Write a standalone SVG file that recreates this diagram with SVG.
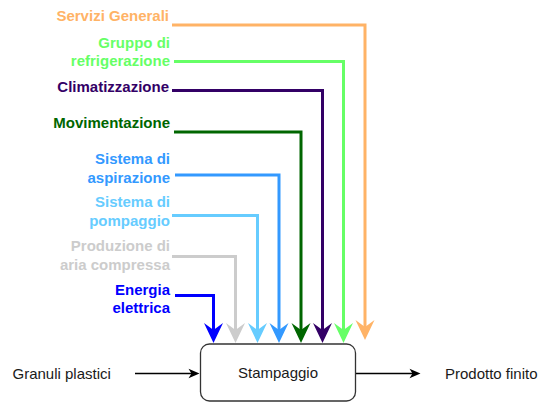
<svg xmlns="http://www.w3.org/2000/svg" xmlns:xlink="http://www.w3.org/1999/xlink" width="539" height="403" viewBox="0 0 539 403">
  <style>
    .lbl { font-family: "Liberation Sans", Arial, sans-serif; font-size: 15px; font-weight: bold; text-anchor: end; }
    .txt { font-family: "Liberation Sans", Arial, sans-serif; font-size: 15px; fill: #1a1a1a; }
    .feed { fill: none; stroke-width: 3; stroke-linejoin: miter; }
    .flow { fill: none; stroke: #000; stroke-width: 1.3; }
  </style>
  <defs>
    <!-- notched arrowhead for the thick supply lines, tip at the origin pointing down -->
    <path id="head" d="M0,0 L-9.5,-20 L0,-13 L9.5,-20 Z"/>
    <!-- small arrowhead for the material flow, tip at the origin pointing right -->
    <path id="tip" d="M0,0 L-11,-4.8 L-8,0 L-11,4.8 Z"/>
  </defs>
  <rect width="539" height="403" fill="#fff"/>

  <g id="connectors">
    <path class="feed" stroke="#FFB366" d="M172,25 H365 V327"/>
    <path class="feed" stroke="#66FF66" d="M174,61.5 H343.5 V330"/>
    <path class="feed" stroke="#330066" d="M172,90.5 H322.5 V330"/>
    <path class="feed" stroke="#006600" d="M174,132 H301 V330"/>
    <path class="feed" stroke="#3399FF" d="M175,175 H279 V330"/>
    <path class="feed" stroke="#66CCFF" d="M172,215.5 H257.5 V330"/>
    <path class="feed" stroke="#CCCCCC" d="M172,256.5 H235.5 V330"/>
    <path class="feed" stroke="#0000FF" d="M175,295.5 H213.5 V330"/>
    <use xlink:href="#head" fill="#FFB366" x="365" y="340"/>
    <use xlink:href="#head" fill="#66FF66" x="343.5" y="343"/>
    <use xlink:href="#head" fill="#330066" x="322.5" y="343"/>
    <use xlink:href="#head" fill="#006600" x="301" y="343"/>
    <use xlink:href="#head" fill="#3399FF" x="279" y="343"/>
    <use xlink:href="#head" fill="#66CCFF" x="257.5" y="343"/>
    <use xlink:href="#head" fill="#CCCCCC" x="235.5" y="343"/>
    <use xlink:href="#head" fill="#0000FF" x="213.5" y="343"/>
    <path class="flow" d="M135,373.5 H192"/>
    <use xlink:href="#tip" fill="#000" x="199.5" y="373.5"/>
    <path class="flow" d="M356,373.5 H413"/>
    <use xlink:href="#tip" fill="#000" x="420.5" y="373.5"/>
  </g>

  <g id="servizi-generali"><text class="lbl" fill="#FFB366" x="169" y="20.5">Servizi Generali</text></g>
  <g id="gruppo-refrigerazione"><text class="lbl" fill="#66FF66" x="170" y="47.5">Gruppo di</text><text class="lbl" fill="#66FF66" x="170" y="65.5">refrigerazione</text></g>
  <g id="climatizzazione"><text class="lbl" fill="#330066" x="169" y="91.5">Climatizzazione</text></g>
  <g id="movimentazione"><text class="lbl" fill="#006600" x="170" y="127.5">Movimentazione</text></g>
  <g id="sistema-aspirazione"><text class="lbl" fill="#3399FF" x="170" y="163.5">Sistema di</text><text class="lbl" fill="#3399FF" x="170" y="182.5">aspirazione</text></g>
  <g id="sistema-pompaggio"><text class="lbl" fill="#66CCFF" x="170" y="206.5">Sistema di</text><text class="lbl" fill="#66CCFF" x="170" y="225.5">pompaggio</text></g>
  <g id="aria-compressa"><text class="lbl" fill="#CCCCCC" x="170" y="251">Produzione di</text><text class="lbl" fill="#CCCCCC" x="170" y="270">aria compressa</text></g>
  <g id="energia-elettrica"><text class="lbl" fill="#0000FF" x="170" y="295">Energia</text><text class="lbl" fill="#0000FF" x="170" y="313">elettrica</text></g>

  <g id="granuli-plastici"><text class="txt" x="12.5" y="378.5">Granuli plastici</text></g>
  <g id="stampaggio">
    <rect x="200.5" y="344" width="155" height="57" rx="9" fill="#fff" stroke="#333" stroke-width="1.3"/>
    <text class="txt" x="278" y="378" text-anchor="middle">Stampaggio</text>
  </g>
  <g id="prodotto-finito"><text class="txt" x="445" y="378.5">Prodotto finito</text></g>
</svg>
